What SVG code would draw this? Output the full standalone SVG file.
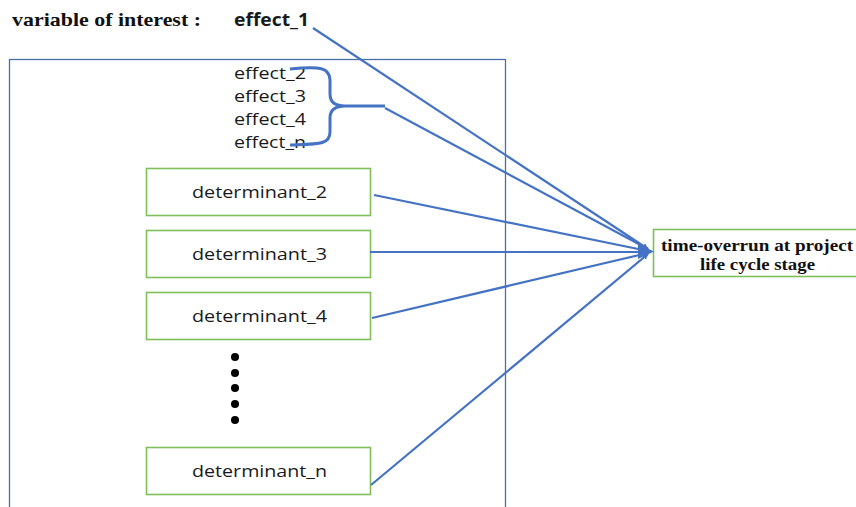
<svg xmlns="http://www.w3.org/2000/svg" width="856" height="507" viewBox="0 0 856 507">
<style>
.sans{font-family:"Open Sans","Liberation Sans",sans-serif;font-size:17px;fill:#1a1a1a}
.serifb{font-family:"Liberation Serif",serif;font-weight:bold;font-size:16px;fill:#111}
.box{fill:#fff;stroke:#7fbf5a;stroke-width:1.6}
.conn{fill:none;stroke:#4472c4;stroke-width:2.2}
</style>
<defs>
<marker id="ah" viewBox="0 0 10 10" refX="9" refY="5" markerWidth="6" markerHeight="6" orient="auto" markerUnits="userSpaceOnUse">
<path d="M0,0 L10,5 L0,10 z" fill="#4472c4"/>
</marker>
<marker id="ahb" viewBox="0 0 10 10" refX="9" refY="5" markerWidth="12" markerHeight="12" orient="auto" markerUnits="userSpaceOnUse">
<path d="M0,0 L10,5 L0,10 z" fill="#4472c4"/>
</marker>
</defs>
<rect width="856" height="507" fill="#fff"/>
<g id="title">
<text x="12" y="26" class="serifb" style="font-size:19px" textLength="189" lengthAdjust="spacingAndGlyphs">variable of interest :</text>
<text x="234" y="26" class="sans" style="font-weight:bold;font-size:17px" textLength="75" lengthAdjust="spacingAndGlyphs">effect_1</text>
</g>
<g id="frame">
<rect x="9.5" y="59.5" width="496" height="460" fill="none" stroke="#4a6fa5" stroke-width="1.3"/>
</g>
<g id="effects">
<text x="234" y="79" class="sans" textLength="72" lengthAdjust="spacingAndGlyphs">effect_2</text>
<text x="234" y="102" class="sans" textLength="72" lengthAdjust="spacingAndGlyphs">effect_3</text>
<text x="234" y="125" class="sans" textLength="72" lengthAdjust="spacingAndGlyphs">effect_4</text>
<text x="234" y="148" class="sans" textLength="72" lengthAdjust="spacingAndGlyphs">effect_n</text>
</g>
<g id="det2"><rect x="146.5" y="168.5" width="224" height="47" class="box"/><text x="192" y="198" class="sans" textLength="135" lengthAdjust="spacingAndGlyphs">determinant_2</text></g>
<g id="det3"><rect x="146.5" y="230.5" width="224" height="47" class="box"/><text x="192" y="260" class="sans" textLength="135" lengthAdjust="spacingAndGlyphs">determinant_3</text></g>
<g id="det4"><rect x="146.5" y="292.5" width="224" height="47" class="box"/><text x="192" y="322" class="sans" textLength="135" lengthAdjust="spacingAndGlyphs">determinant_4</text></g>
<g id="detn"><rect x="146.5" y="447.5" width="224" height="47" class="box"/><text x="192" y="477" class="sans" textLength="135" lengthAdjust="spacingAndGlyphs">determinant_n</text></g>
<g id="dots" fill="#000">
<circle cx="235" cy="357" r="4"/>
<circle cx="235" cy="373" r="4"/>
<circle cx="235" cy="388" r="4"/>
<circle cx="235" cy="404" r="4"/>
<circle cx="235" cy="420" r="4"/>
</g>
<g id="target">
<rect x="653.5" y="229.5" width="204" height="47" class="box"/>
<text x="661" y="251" class="serifb" style="font-size:16px" textLength="192" lengthAdjust="spacingAndGlyphs">time-overrun at  project</text>
<text x="700" y="270" class="serifb" style="font-size:16px" textLength="115" lengthAdjust="spacingAndGlyphs">life cycle stage</text>
</g>
<g id="connectors">
<path d="M290,69 C318,66 330,67 330,80 L330,94 Q330,106 345,106 L385,106 M345,106 Q330,106 330,118 L330,132 C330,145 318,144 290,145" fill="none" stroke="#4472c4" stroke-width="3"/>
<path class="conn" d="M385,108 L648,249" stroke-width="1.8" marker-end="url(#ah)"/>
<path class="conn" d="M313,28 L648,249" stroke-width="3" marker-end="url(#ah)"/>
<path class="conn" d="M374,195 L648,251" marker-end="url(#ah)"/>
<path class="conn" d="M370,252 L648,252" marker-end="url(#ah)"/>
<path class="conn" d="M372,318 L648,253" marker-end="url(#ah)"/>
<path class="conn" d="M371,485 L648,254" marker-end="url(#ah)"/>
<path d="M638,244 L654,251.5 L638,259 z" fill="#4472c4"/>
</g>
</svg>
